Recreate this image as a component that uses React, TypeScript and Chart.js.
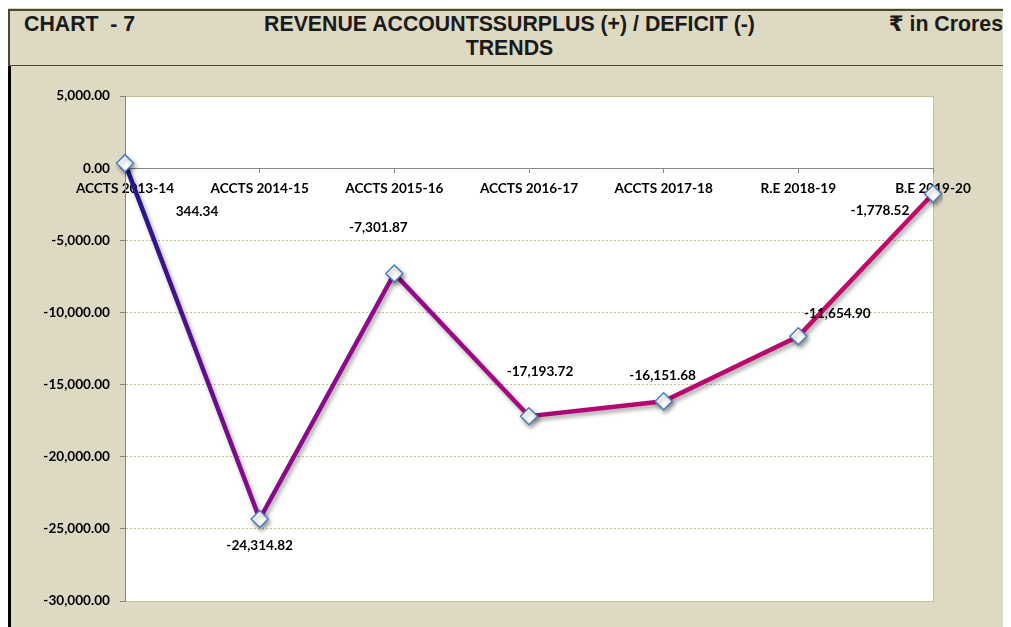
import React, { useEffect, useRef } from 'react';
import { Chart, registerables } from 'chart.js';

Chart.register(...registerables);

const categories = [
  'ACCTS 2013-14',
  'ACCTS 2014-15',
  'ACCTS 2015-16',
  'ACCTS 2016-17',
  'ACCTS 2017-18',
  'R.E 2018-19',
  'B.E 2019-20',
];
const surplusDeficit = [344.34, -24314.82, -7301.87, -17193.72, -16151.68, -11654.9, -1778.52];
const yMin = -30000;
const yMax = 5000;
const yStep = 5000;

// label placement (pixels relative to each point) – style only
const labelOffsets: [number, number][] = [
  [72, 48],
  [0, 27],
  [-16, -46],
  [11, -45],
  [-1, -26],
  [39, -23],
  [-53, 17],
];

function fmt(v: number): string {
  const s = Math.abs(v).toFixed(2);
  const [i, d] = s.split('.');
  const ii = i.replace(/\B(?=(\d{3})+(?!\d))/g, ',');
  return (v < 0 && Math.abs(v) > 0 ? '-' : '') + ii + '.' + d;
}

const FONT = 'Lato';
const FSIZE = 13.6;

export default function App() {
  const ref = useRef<HTMLCanvasElement>(null);

  useEffect(() => {
    const canvas = ref.current!;
    const plotBg = {
      id: 'plotBg',
      beforeDraw(chart: any) {
        const { ctx, chartArea: a } = chart;
        ctx.save();
        ctx.fillStyle = '#ffffff';
        ctx.fillRect(a.left, a.top, a.right - a.left, a.bottom - a.top);
        ctx.strokeStyle = '#c4bd97';
        ctx.lineWidth = 1;
        ctx.strokeRect(Math.round(a.left) + 0.5, Math.round(a.top) + 0.5, Math.round(a.right - a.left), Math.round(a.bottom - a.top));
        ctx.restore();
      },
    };
    const shadow = {
      id: 'shadow',
      beforeDatasetsDraw(chart: any) {
        const ctx = chart.ctx;
        ctx.save();
        ctx.shadowColor = 'rgba(0,0,0,0.35)';
        ctx.shadowBlur = 4;
        ctx.shadowOffsetX = 2;
        ctx.shadowOffsetY = 3;
      },
      afterDatasetsDraw(chart: any) {
        chart.ctx.restore();
      },
    };
    const dataLabels = {
      id: 'dataLabels',
      afterDatasetsDraw(chart: any) {
        const ctx = chart.ctx;
        const meta = chart.getDatasetMeta(0);
        ctx.save();
        ctx.font = `bold ${FSIZE}px ${FONT}`;
        ctx.fillStyle = '#000000';
        ctx.textAlign = 'center';
        ctx.textBaseline = 'middle';
        meta.data.forEach((pt: any, i: number) => {
          const [dx, dy] = labelOffsets[i];
          ctx.fillText(fmt(surplusDeficit[i]), pt.x + dx, pt.y + dy);
        });
        ctx.restore();
      },
    };

    const chart = new Chart(canvas, {
      type: 'line',
      data: {
        labels: categories,
        datasets: [
          {
            data: surplusDeficit,
            borderColor: (c: any) => {
              const { chart: ch } = c;
              const a = ch.chartArea;
              if (!a) return '#8b0a8b';
              const g = ch.ctx.createLinearGradient(a.left, 0, a.right, 0);
              g.addColorStop(0, '#1a1789');
              g.addColorStop(0.15, '#860a8c');
              g.addColorStop(0.35, '#94098a');
              g.addColorStop(0.6, '#b30872');
              g.addColorStop(1, '#c40a68');
              return g;
            },
            borderWidth: 4.5,
            tension: 0,
            pointStyle: 'rectRot',
            pointRadius: 8.5,
            pointHoverRadius: 8.5,
            pointBackgroundColor: '#ffffff',
            pointBorderColor: '#4a7ebb',
            pointBorderWidth: 1.5,
          },
        ],
      },
      options: {
        animation: false,
        responsive: false,
        events: [],
        layout: { padding: { top: 30, right: 78, bottom: 26, left: 0 } },
        plugins: {
          legend: { display: false },
          title: { display: false },
          tooltip: { enabled: false },
        },
        scales: {
          x: {
            type: 'category',
            position: { y: 0 } as any,
            offset: false,
            grid: {
              drawOnChartArea: false,
              drawTicks: true,
              tickLength: 4,
              tickColor: '#868686',
            },
            border: { display: true, color: '#868686', width: 1 },
            ticks: {
              autoSkip: false,
              maxRotation: 0,
              padding: 8,
              color: '#000000',
              font: { family: FONT, size: FSIZE, weight: 'bold' },
            },
          },
          y: {
            min: yMin,
            max: yMax,
            afterFit(scale: any) {
              scale.width = 114;
            },
            grid: {
              color: (c: any) => (c.tick && c.tick.value === 0 ? 'rgba(0,0,0,0)' : '#c4bd97'),
              lineWidth: 1,
              drawTicks: true,
              tickLength: 5,
              tickColor: '#868686',
              tickBorderDash: [],
            } as any,
            border: { display: true, color: '#868686', width: 1, dash: [2, 2] },
            ticks: {
              stepSize: yStep,
              padding: 10,
              color: '#000000',
              font: { family: FONT, size: FSIZE, weight: 'bold' },
              callback: (v: any) => fmt(Number(v)),
            },
          },
        },
      },
      plugins: [plotBg, shadow, dataLabels],
    } as any);

    return () => chart.destroy();
  }, []);

  const headText: React.CSSProperties = {
    position: 'absolute',
    fontWeight: 'bold',
    fontSize: 21.3,
    lineHeight: '23.5px',
    color: '#1a1a1a',
    whiteSpace: 'pre',
    top: 5,
  };

  return (
    <div
      style={{
        position: 'relative',
        width: 1003,
        height: 619,
        background: '#ddd9c3',
        fontFamily: '"Liberation Sans", Arial, "DejaVu Sans", sans-serif',
        overflow: 'hidden',
      }}
    >
      <style>{'html,body{overflow:hidden}'}</style>
      <div style={{ position: 'absolute', left: 0, top: 1, width: 1003, height: 2, background: '#4b4630' }} />
      <div style={{ position: 'absolute', left: 0, top: 1, width: 2, height: 57, background: '#4b4630' }} />
      <div style={{ position: 'absolute', left: 0, top: 57, width: 1003, height: 1, background: '#4b4630' }} />
      <div style={{ position: 'absolute', left: 995, top: 58, width: 8, height: 2, background: '#333333' }} />
      <div style={{ position: 'absolute', left: 0, top: 58, width: 3, height: 561, background: '#000000' }} />
      <div style={{ ...headText, left: 16 }}>{'CHART  - 7'}</div>
      <div style={{ ...headText, left: 0, width: 1003, textAlign: 'center' }}>
        {'REVENUE ACCOUNTSSURPLUS (+) / DEFICIT (-)'}
        <br />
        {'TRENDS'}
      </div>
      <div style={{ ...headText, right: 8 }}>{'₹ in Crores'}</div>
      <canvas
        ref={ref}
        width={1000}
        height={561}
        style={{ position: 'absolute', left: 3, top: 58, width: 1000, height: 561, display: 'block' }}
      />
    </div>
  );
}
